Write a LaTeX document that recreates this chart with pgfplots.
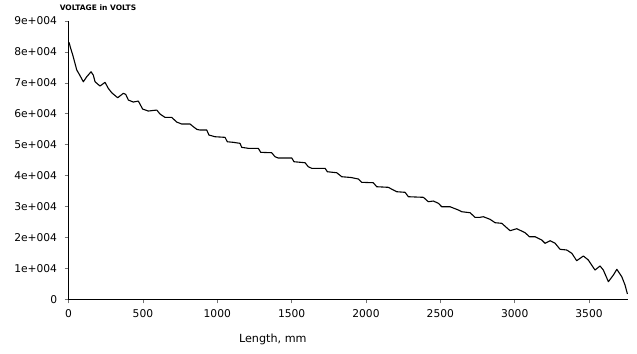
\documentclass[border=0pt]{standalone}
\usepackage{pgfplots}
\pgfplotsset{compat=1.18}
\usepackage{fontspec}
\setmainfont{DejaVu Sans}
\begin{document}
\begin{tikzpicture}
\begin{axis}[
  name=ax,
  scale only axis,
  width=559.4pt, height=278.3pt,
  xmin=0, xmax=3762, ymin=0, ymax=90000,
  scaled x ticks=false, scaled y ticks=false,
  axis line style={draw=none},
  xtick pos=left, ytick pos=left,
  tick align=outside,
  major tick length=4pt,
  tick style={black!55, line width=0.6pt},
  xtick={0,500,1000,1500,2000,2500,3000,3500},
  xticklabels={0,500,1000,1500,2000,2500,3000,3500},
  ytick={0,10000,20000,30000,40000,50000,60000,70000,80000,90000},
  yticklabels={0,1e+004,2e+004,3e+004,4e+004,5e+004,6e+004,7e+004,8e+004,9e+004},
  ticklabel style={font=\fontsize{10.7}{12}\selectfont, black},
  xticklabel style={yshift=-3pt},
  yticklabel style={xshift=-4pt},
  xlabel={Length, mm},
  every axis x label/.style={at={(axis description cs:0.365,0)}, anchor=center, yshift=-40pt, font=\fontsize{11.2}{13}\selectfont},
  title={\textbf{VOLTAGE in VOLTS}},
  every axis title/.style={at={(axis description cs:0.0526,1)}, anchor=center, yshift=13pt, font=\fontsize{7.5}{8}\selectfont},
  clip=false,
]
\draw[black, line width=0.8pt] (axis description cs:0,1) -- (axis description cs:0,0) -- (axis description cs:1,0);
\addplot[black, line width=1.1pt, line join=round] coordinates {
(3,83088) (14,81148) (28,78982) (43,76299) (55,74133) (72,72743) (99,70350)
(122,71967) (151,73583) (166,72516) (178,70350) (211,68960) (245,70156)
(267,68216) (290,66794) (330,65177) (368,66600) (384,66277) (402,64434)
(435,63787) (469,64110) (498,61524) (536,60877) (593,61200) (615,59907)
(648,58841) (693,58841) (727,57321) (761,56674) (817,56674) (839,55802)
(862,54961) (884,54735) (929,54735) (944,53118) (985,52569) (1052,52375)
(1067,50952) (1108,50758) (1153,50435) (1164,49142) (1209,48818) (1276,48818)
(1292,47525) (1366,47396) (1388,46103) (1410,45682) (1501,45682) (1516,44486)
(1590,44163) (1612,42870) (1635,42352) (1725,42352) (1740,41253) (1803,40930)
(1837,39637) (1900,39380) (1949,38893) (1971,37826) (2049,37697) (2072,36404)
(2150,36210) (2184,35337) (2207,34787) (2263,34593) (2285,33171) (2386,32977)
(2419,31554) (2453,31780) (2487,31037) (2509,29938) (2565,29938) (2621,28871)
(2644,28321) (2700,27998) (2733,26511) (2767,26511) (2789,26705) (2834,25864)
(2868,24765) (2913,24571) (2969,22178) (3014,22825) (3070,21532) (3099,20239)
(3137,20239) (3182,19172) (3204,18105) (3238,18945) (3272,18105) (3305,16165)
(3350,15939) (3384,14872) (3417,12479) (3462,13999) (3495,12706) (3540,9473)
(3574,10766) (3596,9473) (3630,5690) (3664,7856) (3687,9699) (3720,7307)
(3742,4623) (3758,1713)
};
\end{axis}
\pgfresetboundingbox
\path[use as bounding box] (ax.south west) ++(-68.6pt,-54.7pt) rectangle ([xshift=9pt,yshift=21pt]ax.north east);
\end{tikzpicture}
\end{document}
